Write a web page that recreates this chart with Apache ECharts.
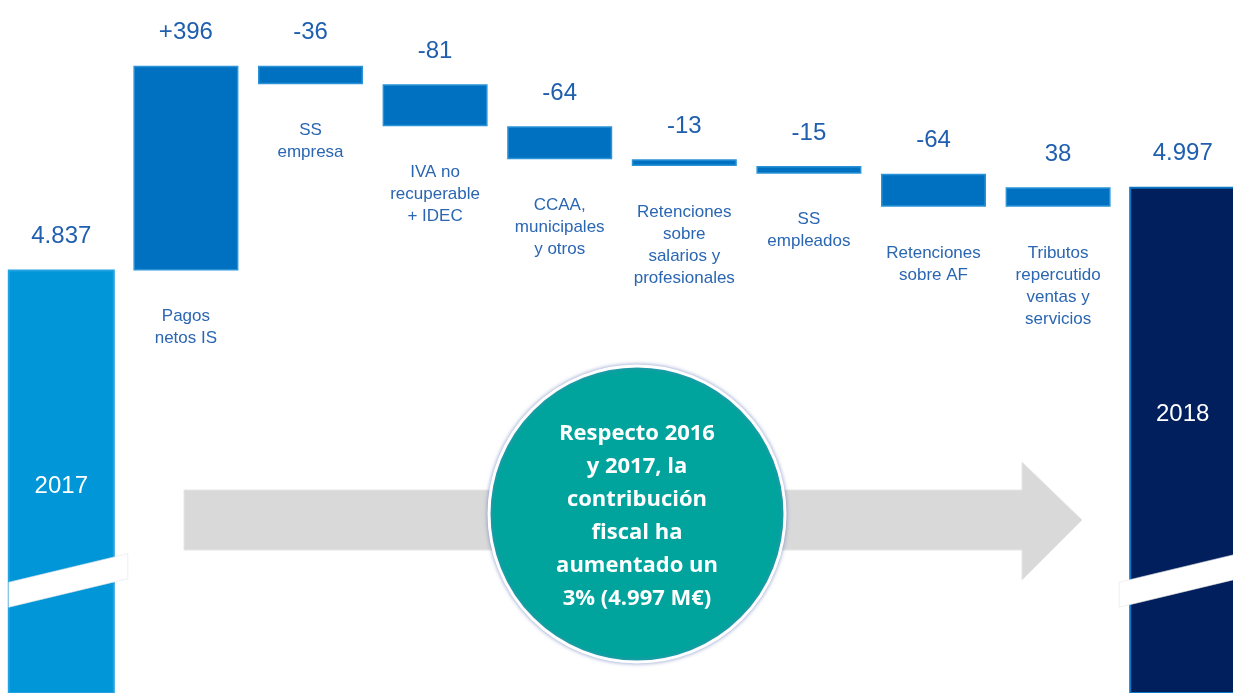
<!DOCTYPE html>
<html>
<head>
<meta charset="utf-8">
<title>Contribución fiscal 2017-2018</title>
<script src="https://cdn.jsdelivr.net/npm/echarts@6.0.0/dist/echarts.min.js"></script>
<style>
  html, body { margin: 0; padding: 0; background: #fff; }
  #chart { width: 1233px; height: 693px; }
</style>
</head>
<body>
<div id="chart"></div>
<script>
// datos (M€)
const categories = ['2017', 'Pagos\nnetos IS', 'SS\nempresa', 'IVA no\nrecuperable\n+ IDEC',
  'CCAA,\nmunicipales\ny otros', 'Retenciones\nsobre\nsalarios y\nprofesionales', 'SS\nempleados',
  'Retenciones\nsobre AF', 'Tributos\nrepercutido\nventas y\nservicios', '2018']
const totals = [4837, 4997]
const changes = [396, -36, -81, -64, -13, -15, -64, 38]
const yearLabels = ['2017', '2018']

const Y_MIN = 4020
const Y_MAX = 5360
const BREAK_AT = 4210
const textBlue = '#1f5fae'

function fmt(v) {
  return String(v).replace(/\B(?=(\d{3})+(?!\d))/g, '.')
}

// escalones de la cascada
let baseData = ['-']
let stepData = ['-']
let acc = totals[0]
changes.forEach(c => {
  baseData.push(c >= 0 ? acc : acc + c)
  stepData.push(Math.abs(c))
  acc += c
})
baseData.push('-')
stepData.push('-')

const chart = echarts.init(document.getElementById('chart'))

chart.setOption({
  animation: false,
  grid: { left: -1, right: -12, top: 0, bottom: 0, outerBoundsMode: 'none' },
  xAxis: {
    type: 'category',
    data: categories,
    show: false
  },
  yAxis: {
    type: 'value',
    min: Y_MIN,
    max: Y_MAX,
    show: false
  },
  graphic: [
    {
      type: 'polygon',
      z: 1,
      shape: {
        points: [[184, 490], [1022, 490], [1022, 462], [1082, 520], [1022, 580], [1022, 550], [184, 550]]
      },
      style: { fill: '#d9d9d9', stroke: '#e6e6e6', lineWidth: 1 }
    },
    {
      type: 'circle',
      z: 2,
      shape: { cx: 637, cy: 514, r: 148 },
      style: {
        fill: '#00a49d',
        stroke: '#ffffff',
        lineWidth: 3,
        shadowBlur: 4,
        shadowColor: 'rgba(110,130,190,0.7)'
      }
    },
    {
      type: 'text',
      z: 3,
      x: 637,
      y: 516,
      style: {
        text: 'Respecto 2016\ny 2017, la\ncontribución\nfiscal ha\naumentado un\n3% (4.997 M€)',
        fill: '#ffffff',
        font: 'bold 22px "Open Sans"',
        lineHeight: 33,
        align: 'center',
        verticalAlign: 'middle'
      }
    }
  ],
  series: [
    {
      name: 'base',
      type: 'bar',
      stack: 'w',
      barWidth: 105,
      itemStyle: { color: 'transparent' },
      label: {
        show: true,
        position: 'insideTop',
        distance: 35,
        color: '#2a66b2',
        fontFamily: 'Liberation Sans',
        fontSize: 17,
        lineHeight: 22,
        formatter: p => categories[p.dataIndex]
      },
      data: baseData
    },
    {
      name: 'variación',
      type: 'bar',
      stack: 'w',
      barWidth: 105,
      itemStyle: { color: '#0071c1', borderColor: '#2a93d8', borderWidth: 1.5 },
      label: {
        show: true,
        position: 'top',
        distance: 21,
        color: textBlue,
        fontFamily: 'Liberation Sans',
        fontSize: 24,
        formatter: p => {
          const c = changes[p.dataIndex - 1]
          return p.dataIndex === 1 ? '+' + c : String(c)
        }
      },
      data: stepData
    },
    {
      name: 'total',
      type: 'custom',
      data: [[0, totals[0]], [9, totals[1]]],
      encode: { x: 0, y: 1 },
      renderItem: function (params, api) {
        const idx = api.value(0)
        const val = api.value(1)
        const top = api.coord([idx, val])
        const bottom = api.coord([idx, Y_MIN])
        const w = 105
        const x0 = top[0] - w / 2
        const first = params.dataIndex === 0
        const fill = first ? '#0096d8' : '#001f5c'
        const edge = first ? '#22a2e2' : '#0a76c4'
        // corte diagonal
        const ext = first ? 14 : 11
        const xl = first ? x0 : x0 - ext
        const xr = first ? x0 + w + ext : x0 + w
        const yl = api.coord([idx, BREAK_AT])[1]
        const yr = yl - 0.24 * (xr - xl)
        const half = 12.5
        return {
          type: 'group',
          children: [
            {
              type: 'rect',
              shape: { x: x0, y: top[1], width: w, height: bottom[1] - top[1] },
              style: { fill: fill, stroke: edge, lineWidth: 2 }
            },
            {
              type: 'polygon',
              shape: { points: [[xl, yl - half], [xr, yr - half], [xr, yr + half], [xl, yl + half]] },
              style: { fill: '#ffffff', stroke: '#e4e4e4', lineWidth: 0.6 }
            },
            {
              type: 'text',
              x: top[0],
              y: top[1] - 34,
              style: {
                text: fmt(val),
                fill: textBlue,
                font: '24px "Liberation Sans"',
                align: 'center',
                verticalAlign: 'middle'
              }
            },
            {
              type: 'text',
              x: top[0],
              y: top[1] + (first ? 216 : 227),
              style: {
                text: yearLabels[params.dataIndex],
                fill: '#ffffff',
                font: '24px "Liberation Sans"',
                align: 'center',
                verticalAlign: 'middle'
              }
            }
          ]
        }
      }
    }
  ]
})
</script>
</body>
</html>
